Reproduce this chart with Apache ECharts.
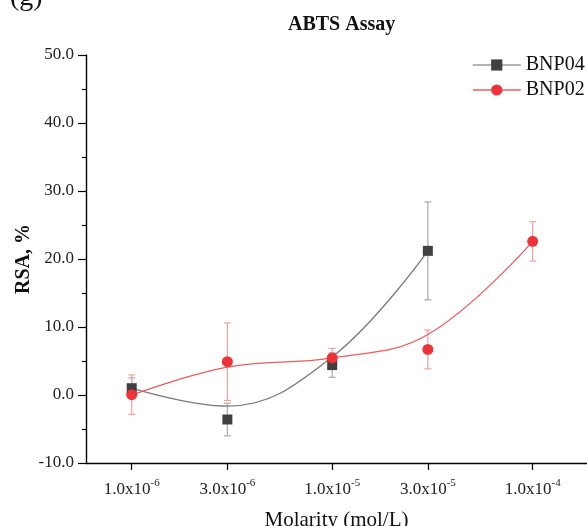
<!DOCTYPE html>
<html><head><meta charset="utf-8">
<script src="https://cdn.jsdelivr.net/npm/echarts@6/dist/echarts.min.js"></script>
<style>html,body{margin:0;padding:0;background:#fff}#c{width:587px;height:526px}</style>
</head><body><div id="c"></div>
<script>
// Data
const molarity = [1e-6, 3e-6, 1e-5, 3e-5, 1e-4];
const tickMantissa = ['1.0x10', '3.0x10', '1.0x10', '3.0x10', '1.0x10'];
const tickExponent = ['-6', '-6', '-5', '-5', '-4'];
const bnp04 = [1.0, -3.6, 4.4, 21.2];
const bnp04Err = [1.5, 2.4, 1.8, 7.2];
const bnp02 = [0.05, 4.9, 5.45, 6.7, 22.6];
const bnp02Err = [2.9, 5.7, 1.4, 2.85, 2.9];
// fitted (smoothed) curves as they appear in the picture, read at each concentration
const bnp04Fit = [1.0, -1.65, 5.6, 21.2];
const bnp02Fit = [0.0, 4.1, 5.45, 8.9, 22.6];

const xs = molarity.map(m => Math.log10(m));
const SERIF = 'Liberation Serif';
const GRAY_MARK = '#404040', GRAY_LINE = '#7a7a7a', GRAY_ERR = '#aaaaaa';
const RED_MARK = '#ee3338', RED_LINE = '#f25a5a', RED_ERR = '#f7a0a0';

function pts(vals) { return vals.map((v, i) => [xs[i], v]); }
function errSeries(name, vals, errs, color, z) {
  return {
    type: 'custom', name: name, z: z, silent: true,
    encode: { x: 0, y: 1 },
    renderItem: function (params, api) {
      const x = api.value(0), y = api.value(1), e = api.value(2);
      const t = api.coord([x, y + e]), b = api.coord([x, y - e]);
      const w = 3.5;
      const st = { stroke: color, lineWidth: 1.2 };
      return { type: 'group', children: [
        { type: 'line', shape: { x1: t[0], y1: t[1], x2: b[0], y2: b[1] }, style: st },
        { type: 'line', shape: { x1: t[0] - w, y1: t[1], x2: t[0] + w, y2: t[1] }, style: st },
        { type: 'line', shape: { x1: b[0] - w, y1: b[1], x2: b[0] + w, y2: b[1] }, style: st }
      ]};
    },
    data: vals.map((v, i) => [xs[i], v, errs[i]])
  };
}

function labelFor(v) {
  let best = 0, d = Infinity;
  xs.forEach((x, i) => { if (Math.abs(x - v) < d) { d = Math.abs(x - v); best = i; } });
  return '{m|' + tickMantissa[best] + '}{s|' + tickExponent[best] + '}';
}

const chart = echarts.init(document.getElementById('c'), null, { renderer: 'canvas' });
chart.setOption({
  animation: false,
  backgroundColor: '#fff',
  title: {
    text: 'ABTS Assay', left: 283, top: 10,
    textStyle: { fontFamily: SERIF, fontWeight: 'bold', fontSize: 20, color: '#111' }
  },
  graphic: [{
    type: 'text', left: 10, top: -16,
    style: { text: '(g)', fontFamily: SERIF, fontSize: 28, fill: '#111' }
  }],
  legend: {
    orient: 'vertical', left: 472, top: 55, padding: 0,
    itemWidth: 48, itemHeight: 14, itemGap: 5,
    textStyle: { fontFamily: SERIF, fontSize: 20, color: '#111', lineHeight: 20 },
    data: [
      { name: 'BNP04', itemStyle: { color: GRAY_MARK }, lineStyle: { color: '#9a9a9a', width: 1.5, opacity: 1 } },
      { name: 'BNP02', itemStyle: { color: RED_MARK }, lineStyle: { color: RED_LINE, width: 1.5, opacity: 1 } }
    ]
  },
  grid: { left: 86, right: 0, top: 55, bottom: 63, containLabel: false, outerBoundsMode: 'none' },
  xAxis: {
    type: 'value', min: -6.228, max: -3.729,
    name: 'Molarity (mol/L)', nameLocation: 'middle', nameGap: 47, nameMoveOverlap: false,
    nameTextStyle: { fontFamily: SERIF, fontSize: 21, color: '#111' },
    axisLine: { show: true, onZero: false, lineStyle: { color: '#000', width: 1.4 } },
    axisTick: { show: true, inside: false, length: 7, customValues: xs, lineStyle: { color: '#000', width: 1.2 } },
    axisLabel: {
      customValues: xs, margin: 15, formatter: labelFor,
      rich: {
        m: { fontFamily: SERIF, fontSize: 17, color: '#222', lineHeight: 20, verticalAlign: 'bottom' },
        s: { fontFamily: SERIF, fontSize: 11, color: '#222', lineHeight: 20, verticalAlign: 'top', padding: [0, 0, 7, 0] }
      }
    },
    splitLine: { show: false }
  },
  yAxis: {
    type: 'value', min: -10, max: 50, interval: 10,
    name: 'RSA, %', nameLocation: 'middle', nameGap: 52, nameMoveOverlap: false,
    nameTextStyle: { fontFamily: SERIF, fontSize: 20, fontWeight: 'bold', color: '#111' },
    axisLine: { show: true, lineStyle: { color: '#000', width: 1.4 } },
    axisTick: { show: true, inside: false, length: 8, lineStyle: { color: '#000', width: 1.2 } },
    minorTick: { show: true, splitNumber: 2, length: 4, lineStyle: { color: '#000', width: 1.2 } },
    axisLabel: { fontFamily: SERIF, fontSize: 17, color: '#222', margin: 12, formatter: v => v.toFixed(1) },
    splitLine: { show: false }
  },
  series: [
    errSeries('err04', bnp04, bnp04Err, GRAY_ERR, 1),
    errSeries('err02', bnp02, bnp02Err, RED_ERR, 1),
    { type: 'line', name: 'fit04', data: pts(bnp04Fit), smooth: 0.4, symbol: 'none', z: 2, silent: true,
      lineStyle: { color: GRAY_LINE, width: 1.3 } },
    { type: 'line', name: 'fit02', data: pts(bnp02Fit), smooth: 0.4, symbol: 'none', z: 2, silent: true,
      lineStyle: { color: RED_LINE, width: 1.3 } },
    { type: 'line', name: 'BNP04', data: pts(bnp04), symbol: 'rect', symbolSize: 10, z: 3,
      itemStyle: { color: GRAY_MARK }, lineStyle: { width: 0, opacity: 0 } },
    { type: 'line', name: 'BNP02', data: pts(bnp02), symbol: 'circle', symbolSize: 11, z: 4,
      itemStyle: { color: RED_MARK }, lineStyle: { width: 0, opacity: 0 } }
  ]
});
</script>
</body></html>
